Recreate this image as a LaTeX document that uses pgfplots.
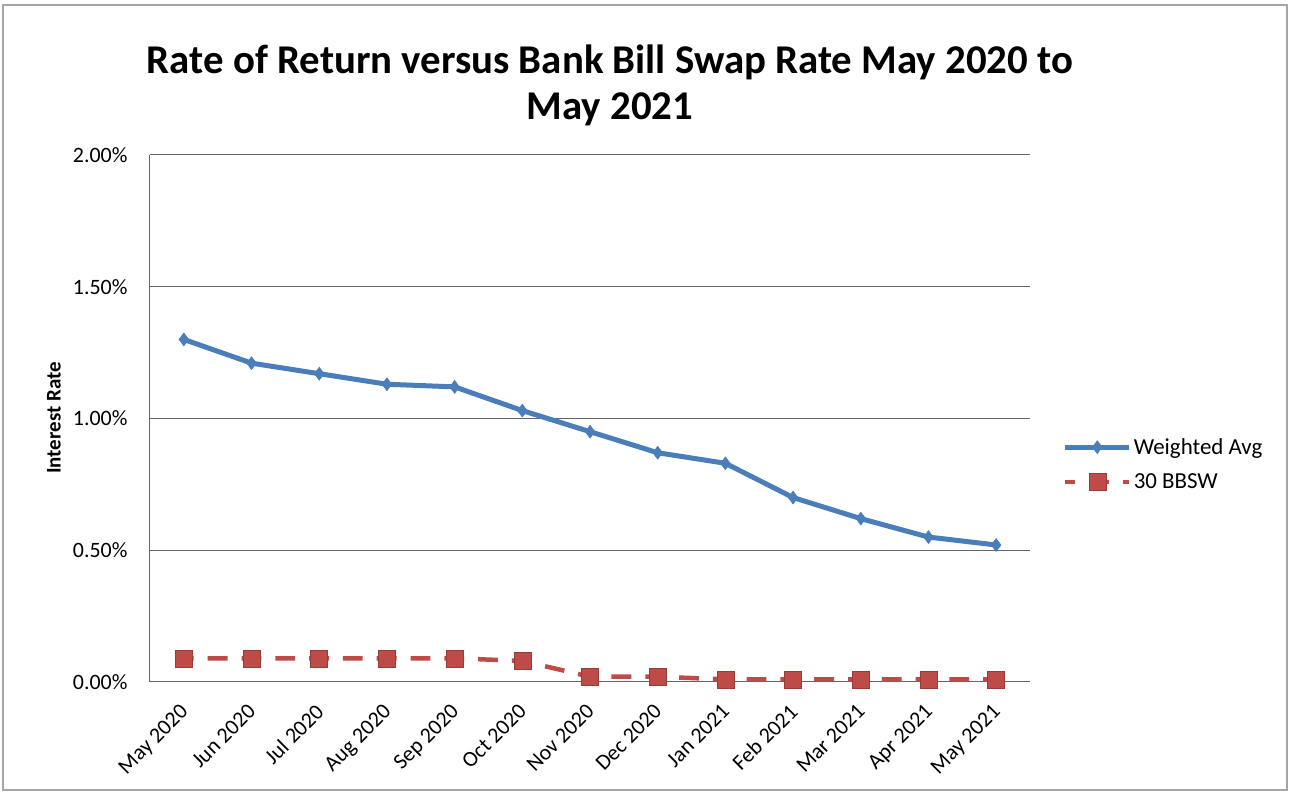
\documentclass[border=0pt]{standalone}
\usepackage{pgfplots}
\pgfplotsset{compat=1.18}
\usepackage{fontspec}
\setmainfont{Carlito}
\definecolor{wblue}{HTML}{4A7EBB}
\definecolor{bred}{HTML}{BE4B48}
\begin{document}
\begin{tikzpicture}[x=1bp,y=1bp]
\useasboundingbox (-150,-112) rectangle (1139,682);
\draw[gray!70, line width=1.5bp] (-147,-108) rectangle (1137,677);
\node[font=\fontsize{41}{46}\selectfont\bfseries, align=center] at (460,597) {Rate of Return versus Bank Bill Swap Rate May 2020 to\\May 2021};
\node[font=\fontsize{21}{25}\selectfont\bfseries, rotate=90] at (-96,264) {Interest Rate};
\begin{axis}[
  at={(0,0)}, anchor=south west,
  scale only axis, width=880bp, height=527bp,
  xmin=-0.5, xmax=12.5, ymin=0, ymax=2,
  axis x line*=bottom, axis y line*=left,
  axis line style={-, gray!80!black, line width=1bp},
  xtick={0,...,12},
  xticklabels={May 2020,Jun 2020,Jul 2020,Aug 2020,Sep 2020,Oct 2020,Nov 2020,Dec 2020,Jan 2021,Feb 2021,Mar 2021,Apr 2021,May 2021},
  xticklabel style={rotate=45, anchor=north east, font=\fontsize{22}{26}\selectfont, inner sep=2bp, xshift=-16bp, yshift=-9bp},
  ytick={0,0.5,1,1.5,2},
  yticklabels={0.00\%,0.50\%,1.00\%,1.50\%,2.00\%},
  yticklabel style={font=\fontsize{22}{26}\selectfont, xshift=-19bp},
  /pgf/number format/assume math mode=true,
  major tick length=0pt,
  ymajorgrids,
  grid style={gray!80!black, line width=1bp},
  legend style={at={(1.037,0.413)}, anchor=west, draw=none, fill=none,
    font=\fontsize{23}{27}\selectfont, row sep=14bp, inner sep=0pt},
  legend cell align=left,
  legend image code/.code={\draw[mark repeat=2,mark phase=2,#1] plot coordinates {(0bp,0bp) (32bp,0bp) (64bp,0bp)};},
]
\addplot[wblue, line width=5bp, mark=diamond*, mark size=6.5bp, mark options={solid, fill=wblue, line width=0.5bp}]
coordinates {(0,1.30) (1,1.21) (2,1.17) (3,1.13) (4,1.12) (5,1.03) (6,0.95) (7,0.87) (8,0.83) (9,0.70) (10,0.62) (11,0.55) (12,0.52)};
\addlegendentry{Weighted Avg}
\addplot[bred, line width=4.5bp, dash pattern=on 19.8bp off 14bp, dash phase=9.9bp, mark=square*, mark size=8.5bp, mark options={solid, fill=bred, draw=bred!80!black, line width=0.5bp}]
coordinates {(0,0.09) (1,0.09) (2,0.09) (3,0.09) (4,0.09) (5,0.08) (6,0.02) (7,0.02) (8,0.01) (9,0.01) (10,0.01) (11,0.01) (12,0.01)};
\addlegendentry{30 BBSW}
\end{axis}
\end{tikzpicture}
\end{document}
